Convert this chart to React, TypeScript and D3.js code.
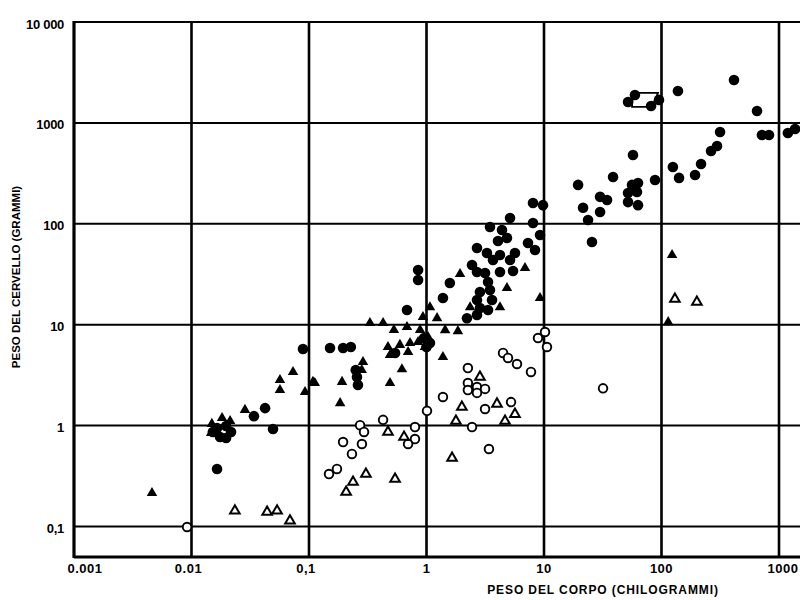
import React from "react";
import * as d3 from "d3";

// Values: [body weight kg, brain weight g]
const filledCircles: [number, number][] = [
  [59.4, 1890], [51.9, 1610], [81.5, 1470], [95.2, 1690], [138, 2070], [414, 2660],
  [650, 1310], [315, 813], [297, 590], [264, 527], [716, 759], [822, 759], [1190, 794],
  [1370, 871], [57.2, 481], [38.7, 291], [19.5, 243], [88.1, 272], [125, 366], [141, 285],
  [217, 392], [193, 305], [30.0, 185], [34.4, 172], [21.5, 144], [30.0, 131], [23.7, 109],
  [25.6, 66.1], [56.1, 243], [63.1, 254], [51.9, 202], [61.8, 207], [51.9, 164], [63.1, 153],
  [9.8, 153], [8.06, 161], [5.14, 114], [3.47, 92.9], [4.39, 86.9], [4.84, 72.3], [4.06, 67.6],
  [8.06, 102], [9.25, 77.4], [7.31, 64.6], [8.38, 55.0], [2.69, 57.5], [3.27, 51.4], [3.68, 43.8],
  [4.22, 49.1], [5.66, 51.4], [5.14, 43.8], [2.44, 39.1], [2.69, 33.3], [3.15, 32.5], [4.22, 33.3],
  [5.45, 34.0], [3.34, 26.5], [2.85, 21.1], [3.47, 22.1], [2.69, 17.6], [3.61, 17.6], [2.85, 14.6],
  [3.34, 14.0], [2.69, 12.5], [2.21, 11.6], [1.58, 25.9], [1.38, 18.4], [0.682, 14.0], [0.848, 34.8],
  [0.848, 27.7], [0.0889, 5.74], [0.151, 5.88], [0.195, 5.88], [0.227, 6.01], [0.256, 3.03],
  [0.261, 2.53], [0.25, 3.56], [0.54, 5.25], [0.0423, 1.49], [0.034, 1.24], [0.0494, 0.925],
  [0.0165, 0.372], [0.0152, 0.865], [0.0175, 0.771], [0.0197, 0.753], [0.0217, 0.865],
  [0.0197, 0.99], [0.0165, 0.946], [0.953, 7.38], [1.07, 6.59], [1.0, 6.01],
];

const filledTriangles: [number, number][] = [
  [0.00461, 0.215], [0.0731, 3.40], [0.0566, 2.83], [0.0566, 2.25], [0.108, 2.71], [0.0285, 1.43],
  [0.0182, 1.19], [0.0213, 1.11], [0.0149, 1.04], [0.0147, 0.845], [0.330, 10.4], [0.427, 10.4],
  [0.528, 8.85], [0.682, 9.49], [0.882, 8.85], [0.933, 11.9], [1.07, 14.9], [0.470, 6.01],
  [0.594, 6.30], [0.724, 6.59], [0.697, 5.36], [0.489, 5.01], [0.848, 6.74], [1.03, 7.55],
  [0.97, 6.01], [0.288, 4.27], [0.281, 3.56], [0.618, 3.62], [0.112, 2.64], [0.191, 2.71],
  [0.489, 2.64], [0.0925, 2.15], [0.184, 1.67], [1.93, 31.8], [6.89, 36.5], [4.84, 23.1],
  [4.22, 14.9], [2.35, 14.9], [1.23, 11.6], [1.44, 8.82], [1.85, 8.63], [9.25, 18.4],
  [1.38, 4.79], [114, 10.6], [123, 49.1],
];

const openCircles: [number, number][] = [
  [8.89, 7.38], [10.2, 8.47], [10.6, 6.01], [4.48, 5.25], [4.94, 4.68], [5.89, 4.08], [7.75, 3.40],
  [2.25, 3.72], [2.25, 2.64], [2.69, 2.41], [3.15, 2.31], [2.25, 2.25], [2.69, 2.11], [1.38, 1.92],
  [5.24, 1.71], [3.15, 1.46], [1.01, 1.40], [2.44, 0.968], [3.40, 0.586], [31.8, 2.34],
  [0.427, 1.14], [0.272, 1.01], [0.294, 0.865], [0.798, 0.968], [0.798, 0.736], [0.697, 0.657],
  [0.195, 0.687], [0.282, 0.657], [0.232, 0.524], [0.173, 0.372], [0.148, 0.331], [0.00917, 0.0989],
];

const openTriangles: [number, number][] = [
  [2.85, 3.03], [2.0, 1.53], [3.98, 1.64], [5.66, 1.30], [1.78, 1.11], [4.66, 1.11], [1.65, 0.478],
  [0.470, 0.865], [0.644, 0.771], [0.305, 0.331], [0.540, 0.296], [0.237, 0.276], [0.207, 0.220],
  [0.0234, 0.143], [0.0440, 0.139], [0.0535, 0.143], [0.0689, 0.114], [130, 18.0], [200, 16.8],
];

// outline around the human group
const humanOutline: [number, number][] = [[57.2, 1980], [93.3, 1980], [83.0, 1440], [56.1, 1440]];

const xTicks = [0.001, 0.01, 0.1, 1, 10, 100, 1000];
const xTickLabels = ["0.001", "0.01", "0,1", "1", "10", "100", "1000"];
const yTicks = [0.1, 1, 10, 100, 1000, 10000];
const yTickLabels = ["0,1", "1", "10", "100", "1000", "10 000"];

const xTitle = "PESO DEL CORPO (CHILOGRAMMI)";
const yTitle = "PESO DEL CERVELLO (GRAMMI)";

export default function App() {
  const W = 800, H = 600;
  const left = 74, right = 800;
  const x = d3.scaleLog().domain([0.001, 1000]).range([74, 779]);
  const y = d3.scaleLog().domain([0.1, 10000]).range([526.5, 22]);
  const yBottom = y(0.0498);
  const tri = d3.symbol(d3.symbolTriangle, 48)();
  const triOpen = d3.symbol(d3.symbolTriangle, 40)();
  const font = "'Liberation Sans', Arial, sans-serif";
  const outline = d3.line<[number, number]>().x((d) => x(d[0])).y((d) => y(d[1]));
  const xOffsets = [11, -3, -3, 0, 0, 0, 4];

  return (
    <svg width={W} height={H} style={{ position: "absolute", left: 0, top: 0, background: "#fff" }}>
      <rect x={0} y={0} width={W} height={H} fill="#fff" />
      {/* horizontal grid lines */}
      {yTicks.map((t) => (
        <line key={"h" + t} x1={left} x2={right} y1={y(t)} y2={y(t)} stroke="#000" strokeWidth={2} />
      ))}
      <line x1={left} x2={right} y1={y(10000)} y2={y(10000)} stroke="#000" strokeWidth={1.6} />
      <line x1={left} x2={right} y1={yBottom} y2={yBottom} stroke="#000" strokeWidth={3} />
      {/* vertical grid lines */}
      {xTicks.map((t) => (
        <line key={"v" + t} x1={x(t)} x2={x(t)} y1={y(10000) - 1} y2={yBottom + 1} stroke="#000" strokeWidth={t === 0.001 ? 3.2 : 2.6} />
      ))}
      {/* y tick labels */}
      {yTicks.map((t, i) => (
        <text key={"yl" + t} x={64} y={y(t) + 6.5} textAnchor="end" fontFamily={font} fontWeight="bold" fontSize={13} letterSpacing={-0.3}>
          {yTickLabels[i]}
        </text>
      ))}
      {/* x tick labels */}
      {xTicks.map((t, i) => (
        <text key={"xl" + t} x={x(t) + xOffsets[i]} y={573} textAnchor="middle" fontFamily={font} fontWeight="bold" fontSize={13} letterSpacing={0.5}>
          {xTickLabels[i]}
        </text>
      ))}
      <text x={603} y={594} textAnchor="middle" fontFamily={font} fontWeight="bold" fontSize={12} letterSpacing={0.9}>
        {xTitle}
      </text>
      <text transform={`translate(20,277) rotate(-90)`} textAnchor="middle" fontFamily={font} fontWeight="bold" fontSize={11.5}>
        {yTitle}
      </text>
      {/* marks */}
      <path d={outline(humanOutline) + "Z"} fill="none" stroke="#000" strokeWidth={1.8} />
      {filledCircles.map((d, i) => (
        <circle key={"fc" + i} cx={x(d[0])} cy={y(d[1])} r={5.3} fill="#000" />
      ))}
      {filledTriangles.map((d, i) => (
        <path key={"ft" + i} d={tri} transform={`translate(${x(d[0])},${y(d[1])})`} fill="#000" />
      ))}
      {openCircles.map((d, i) => (
        <circle key={"oc" + i} cx={x(d[0])} cy={y(d[1])} r={4.3} fill="#fff" stroke="#000" strokeWidth={1.9} />
      ))}
      {openTriangles.map((d, i) => (
        <path key={"ot" + i} d={triOpen} transform={`translate(${x(d[0])},${y(d[1])})`} fill="#fff" stroke="#000" strokeWidth={2} />
      ))}
    </svg>
  );
}
